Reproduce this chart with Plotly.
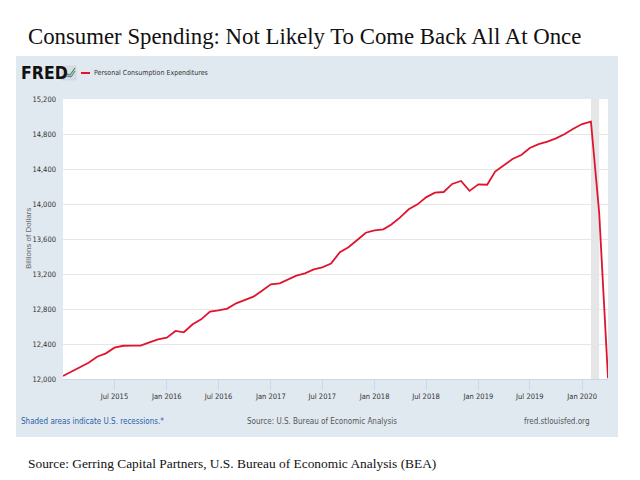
import plotly.graph_objects as go

# ---- data ----
months = [
    "2015-01-01","2015-02-01","2015-03-01","2015-04-01","2015-05-01","2015-06-01",
    "2015-07-01","2015-08-01","2015-09-01","2015-10-01","2015-11-01","2015-12-01",
    "2016-01-01","2016-02-01","2016-03-01","2016-04-01","2016-05-01","2016-06-01",
    "2016-07-01","2016-08-01","2016-09-01","2016-10-01","2016-11-01","2016-12-01",
    "2017-01-01","2017-02-01","2017-03-01","2017-04-01","2017-05-01","2017-06-01",
    "2017-07-01","2017-08-01","2017-09-01","2017-10-01","2017-11-01","2017-12-01",
    "2018-01-01","2018-02-01","2018-03-01","2018-04-01","2018-05-01","2018-06-01",
    "2018-07-01","2018-08-01","2018-09-01","2018-10-01","2018-11-01","2018-12-01",
    "2019-01-01","2019-02-01","2019-03-01","2019-04-01","2019-05-01","2019-06-01",
    "2019-07-01","2019-08-01","2019-09-01","2019-10-01","2019-11-01","2019-12-01",
    "2020-01-01","2020-02-01","2020-03-01","2020-04-01",
]
pce = [
    12034, 12085, 12140, 12186, 12255, 12293,
    12358, 12380, 12382, 12382, 12419, 12453,
    12472, 12549, 12534, 12625, 12682, 12770,
    12785, 12805, 12865, 12905, 12941, 13009,
    13082, 13093, 13139, 13181, 13207, 13253,
    13275, 13320, 13450, 13505, 13589, 13672,
    13699, 13710, 13767, 13847, 13939, 13996,
    14076, 14129, 14137, 14229, 14263, 14150,
    14225, 14220, 14370, 14446, 14514, 14560,
    14640, 14685, 14712, 14750, 14800, 14860,
    14914, 14940, 13897, 12010,
]
series_name = "Personal Consumption Expenditures"
x_tickvals = ["2015-07-01","2016-01-01","2016-07-01","2017-01-01","2017-07-01",
              "2018-01-01","2018-07-01","2019-01-01","2019-07-01","2020-01-01"]
x_ticktext = ["Jul 2015","Jan 2016","Jul 2016","Jan 2017","Jul 2017",
              "Jan 2018","Jul 2018","Jan 2019","Jul 2019","Jan 2020"]
y_tickvals = [12000, 12400, 12800, 13200, 13600, 14000, 14400, 14800, 15200]
recession = ("2020-02-01", "2020-03-01")

# ---- layout geometry (window pixels; page body has an 8px margin) ----
OFF = 8
W, H = 640 - OFF, 480 - OFF
L, R, T, B = 63, 608, 99, 379

def px(x):
    return (x - L) / (R - L)

def py(y):
    return (B - y) / (B - T)

narrow = "DejaVu Sans Condensed, Liberation Sans Narrow, Arial Narrow, Liberation Sans"
serif = "Liberation Serif, Times New Roman, serif"

fig = go.Figure()
fig.add_trace(go.Scatter(
    x=months, y=pce, mode="lines", name=series_name,
    line=dict(color="#e0142f", width=1.8), showlegend=False,
))

shapes = [
    # FRED panel background
    dict(type="rect", xref="paper", yref="paper", layer="below",
         x0=px(16), x1=px(618), y0=py(437), y1=py(56),
         fillcolor="#e1e9f0", line=dict(width=0)),
    # white plot area
    dict(type="rect", xref="paper", yref="paper", layer="below",
         x0=0, x1=1, y0=0, y1=1,
         fillcolor="white", line=dict(width=0)),
    # recession band
    dict(type="rect", xref="x", yref="y", layer="below",
         x0=recession[0], x1=recession[1], y0=12000, y1=15200,
         fillcolor="#e6e6e6", line=dict(width=0)),
    # legend dash
    dict(type="line", xref="paper", yref="paper",
         x0=px(81), x1=px(90), y0=py(73), y1=py(73),
         line=dict(color="#e0142f", width=2)),
    # FRED icon
    dict(type="rect", xref="paper", yref="paper",
         x0=px(62), x1=px(76), y0=py(80), y1=py(66),
         fillcolor="#d9dde2", line=dict(color="#c4c9cf", width=0.5)),
    dict(type="path", xref="paper", yref="paper",
         path=f"M {px(63)},{py(78)} L {px(67)},{py(74)} L {px(70)},{py(75)} L {px(75)},{py(68)}",
         line=dict(color="#3a9a3a", width=1.2)),
    dict(type="path", xref="paper", yref="paper",
         path=f"M {px(63)},{py(79)} L {px(67)},{py(76)} L {px(71)},{py(77)} L {px(75)},{py(71)}",
         line=dict(color="#3a6fb5", width=1)),
]

annotations = [
    dict(text="Consumer Spending: Not Likely To Come Back All At Once",
         xref="paper", yref="paper", x=px(25.5), y=py(37), xanchor="left", yanchor="middle",
         showarrow=False, font=dict(family=serif, size=22.8, color="#111111")),
    dict(text="<b>FRED</b>", xref="paper", yref="paper", x=px(19), y=py(73),
         xanchor="left", yanchor="middle", showarrow=False,
         font=dict(family=narrow, size=17.5, color="#111111")),
    dict(text=series_name, xref="paper", yref="paper", x=px(92), y=py(73),
         xanchor="left", yanchor="middle", showarrow=False,
         font=dict(family=narrow, size=7, color="#333333")),
    dict(text="Billions of Dollars", xref="paper", yref="paper", x=px(28), y=0.5,
         xanchor="center", yanchor="middle", textangle=-90, showarrow=False,
         font=dict(family="Liberation Sans, Arial", size=8, color="#666666")),
    dict(text="Shaded areas indicate U.S. recessions.*", xref="paper", yref="paper",
         x=px(19), y=py(421), xanchor="left", yanchor="middle", showarrow=False,
         font=dict(family=narrow, size=8, color="#2b5fa8")),
    dict(text="Source: U.S. Bureau of Economic Analysis", xref="paper", yref="paper",
         x=px(245), y=py(421), xanchor="left", yanchor="middle", showarrow=False,
         font=dict(family=narrow, size=8, color="#555555")),
    dict(text="fred.stlouisfed.org", xref="paper", yref="paper",
         x=px(592), y=py(421), xanchor="right", yanchor="middle", showarrow=False,
         font=dict(family=narrow, size=8, color="#555555")),
    dict(text="Source: Gerring Capital Partners, U.S. Bureau of Economic Analysis (BEA)",
         xref="paper", yref="paper", x=px(26), y=py(463), xanchor="left", yanchor="middle",
         showarrow=False, font=dict(family=serif, size=13.4, color="#111111")),
]

fig.update_layout(
    width=W, height=H,
    margin=dict(l=L - OFF, r=640 - R, t=T - OFF, b=480 - B, pad=0),
    paper_bgcolor="white", plot_bgcolor="white",
    shapes=shapes, annotations=annotations,
    showlegend=False,
    xaxis=dict(
        type="date", range=["2015-01-01", "2020-04-01"],
        tickvals=x_tickvals, ticktext=x_ticktext,
        showgrid=False, zeroline=False,
        showline=True, linecolor="#ccd6eb", linewidth=1,
        ticks="outside", ticklen=10, tickcolor="#ccd6eb",
        tickfont=dict(family=narrow, size=7.5, color="#333333"),
    ),
    yaxis=dict(
        range=[12000, 15200], tickvals=y_tickvals, tickformat=",d",
        showgrid=True, gridcolor="#e6e6e6", gridwidth=1, zeroline=False,
        showline=False, ticks="", ticklabelstandoff=6,
        tickfont=dict(family=narrow, size=7.5, color="#333333"),
    ),
)

fig.write_html("out.html")
